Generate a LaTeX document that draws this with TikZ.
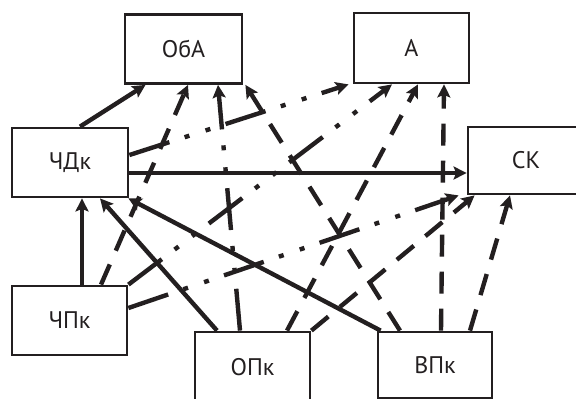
\documentclass[tikz,border=0pt]{standalone}
\usepackage{fontspec}
\setmainfont{PT Sans}
\usetikzlibrary{arrows.meta}
\definecolor{ink}{HTML}{231F20}
\begin{document}
\begin{tikzpicture}[x=1pt,y=-1pt,
  box/.style={draw=ink,line width=2.8pt,fill=white,inner sep=0pt,
    minimum width=116pt,minimum height=69pt,text=ink,
    font=\fontsize{24}{28}\selectfont},
  link/.style={draw=ink,line width=4.4pt,-{Stealth[length=13pt,width=13pt,inset=2.5pt]}},
  solidlink/.style={link},
  dashlink/.style={link,dash pattern=on 22pt off 15pt},
  dotlink/.style={link,dash pattern=on 42pt off 16pt on 5pt off 17pt on 5pt off 16pt}]
\useasboundingbox (0,0) rectangle (576,399);

% boxes
\node[box,minimum width=117pt] (oba)  at (183.5,49)   {ОбА};
\node[box,minimum width=115pt,minimum height=70pt] (a) at (411.5,48) {А};
\node[box] (chdk) at (70,162.5)  {ЧДк};
\node[box,minimum height=67pt] (sk) at (526,160.5) {СК};
\node[box,minimum width=115pt] (chpk) at (69.5,320.5) {ЧПк};
\node[box,minimum width=115pt,minimum height=70pt] (opk) at (252.5,367) {ОПк};
\node[box,minimum width=114pt,minimum height=66pt] (vpk) at (435,365) {ВПк};

% solid links
\draw[solidlink] ([xshift=10pt]chdk.north) -- ([xshift=-38pt]oba.south);
\draw[solidlink] ([yshift=-10.5pt]chdk.east) -- ([yshift=-12.5pt]sk.west);
\draw[solidlink] ([xshift=12.5pt]chpk.north) -- ([xshift=12pt]chdk.south);
\draw[solidlink] ([xshift=-35.5pt]opk.north) -- ([xshift=30pt]chdk.south);
\draw[solidlink] ([xshift=4pt]vpk.north west) -- ([xshift=-1pt]chdk.south east);

% dashed links
\draw[dashlink] ([xshift=31.5pt]chpk.north) -- ([xshift=4.5pt]oba.south);
\draw[dashlink] ([xshift=-35pt]vpk.north) -- ([xshift=2pt]oba.south east);
\draw[dashlink] ([xshift=34.5pt]opk.north) -- ([xshift=6.5pt]a.south);
\draw[dashlink] ([xshift=6pt]vpk.north) -- ([xshift=32.5pt]a.south);
\draw[dashlink] (opk.north east) -- ([xshift=8pt]sk.south west);
\draw[dashlink] ([xshift=35pt]vpk.north) -- ([xshift=-16pt]sk.south);

% dash-dot-dot links
\draw[dotlink] ([xshift=-12.5pt]opk.north) -- ([xshift=34.5pt]oba.south);
\draw[dotlink] ([yshift=7.5pt]chdk.east) -- ([xshift=-4pt]a.south west);
\draw[dotlink] (chpk.north east) -- ([xshift=-19.5pt]a.south);
\draw[dotlink] ([yshift=12.5pt]chpk.east) -- ([xshift=-8pt]sk.south west);
\end{tikzpicture}
\end{document}
